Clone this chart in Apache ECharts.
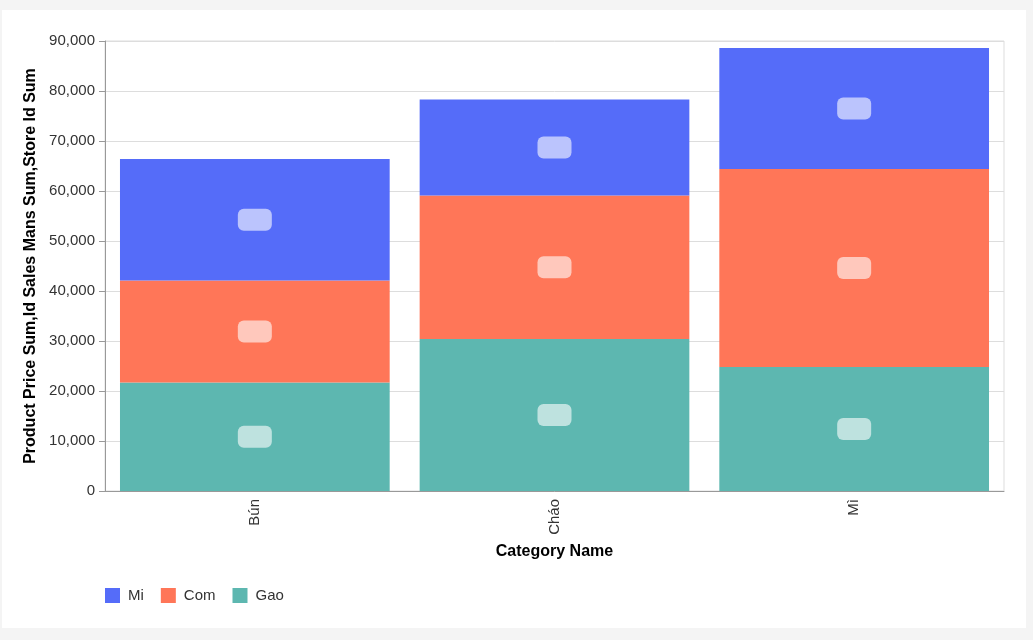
<!DOCTYPE html>
<html>
<head>
<meta charset="utf-8">
<script src="https://cdn.jsdelivr.net/npm/echarts@6/dist/echarts.min.js"></script>
<style>
  html, body { margin: 0; padding: 0; background: #f4f4f4; width: 1033px; height: 640px; overflow: hidden; }
  #card { position: absolute; left: 2px; top: 10px; width: 1024px; height: 618px; background: #fff; }
  #chart { position: absolute; left: 0; top: 0; width: 1033px; height: 640px; }
</style>
</head>
<body>
<div id="card"></div>
<div id="chart"></div>
<script>
const categories = ['Bún', 'Cháo', 'Mì'];
const gaoValues = [21700, 30400, 24800];
const comValues = [20400, 28700, 39600];
const miValues = [24300, 19200, 24200];
const legendNames = ['Mi', 'Com', 'Gao'];

const colors = { Mi: '#556cf9', Com: '#ff7658', Gao: '#5db7b0' };
const font = 'Liberation Sans, Arial, sans-serif';

const labelStyle = {
  show: true,
  position: 'inside',
  formatter: '{b| }',
  rich: {
    b: { width: 34, height: 22, backgroundColor: 'rgba(255,255,255,0.6)', borderRadius: 6 }
  }
};

function makeSeries(name, values) {
  return {
    name: name,
    type: 'bar',
    stack: 'total',
    data: values,
    barWidth: '90%',
    itemStyle: { color: colors[name] },
    label: labelStyle,
    emphasis: { disabled: true }
  };
}

const chart = echarts.init(document.getElementById('chart'), null, { renderer: 'canvas' });
chart.setOption({
  animation: false,
  backgroundColor: 'transparent',
  textStyle: { fontFamily: font },
  grid: { left: 105, top: 41, width: 899, height: 450, show: true, borderColor: '#ddd', borderWidth: 1, backgroundColor: 'transparent' },
  legend: {
    data: legendNames,
    left: 100,
    top: 583,
    itemWidth: 15,
    itemHeight: 15,
    itemGap: 17,
    icon: 'rect',
    textStyle: { fontSize: 15, color: '#333', fontFamily: font, padding: [0, 0, 0, 3] }
  },
  xAxis: {
    type: 'category',
    data: categories,
    name: 'Category Name',
    nameLocation: 'middle',
    nameGap: 53,
    nameTextStyle: { fontSize: 16, fontWeight: 'bold', color: '#000', fontFamily: font },
    axisLine: { lineStyle: { color: '#999' } },
    axisTick: { alignWithLabel: true, length: 6, lineStyle: { color: '#999' } },
    axisLabel: { rotate: 90, fontSize: 15, color: '#333', margin: 8, fontFamily: font }
  },
  yAxis: {
    type: 'value',
    min: 0,
    max: 90000,
    interval: 10000,
    name: 'Product Price Sum,Id Sales Mans Sum,Store Id Sum',
    nameLocation: 'middle',
    nameGap: 59,
    nameTextStyle: { fontSize: 16, fontWeight: 'bold', color: '#000', fontFamily: font },
    axisLine: { show: true, lineStyle: { color: '#999' } },
    axisTick: { show: true, length: 6, lineStyle: { color: '#999' } },
    axisLabel: { fontSize: 15, color: '#333', margin: 10, fontFamily: font },
    splitLine: { lineStyle: { color: '#ddd' } }
  },
  series: [
    makeSeries('Gao', gaoValues),
    makeSeries('Com', comValues),
    makeSeries('Mi', miValues)
  ]
});
</script>
</body>
</html>
